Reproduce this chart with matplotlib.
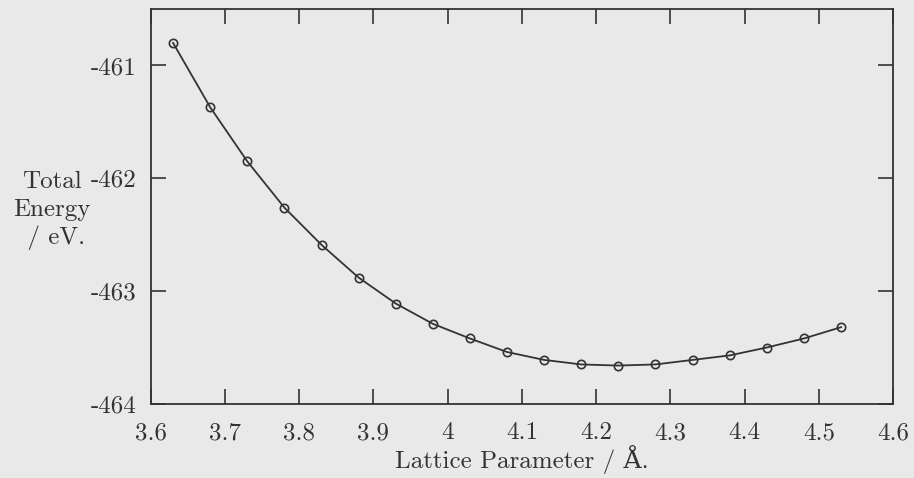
import numpy as np
import matplotlib.pyplot as plt
from matplotlib.ticker import FuncFormatter

# lattice parameter (Angstrom) and total energy (eV)
lattice = [3.63, 3.68, 3.73, 3.78, 3.83, 3.88, 3.93, 3.98, 4.03, 4.08,
           4.13, 4.18, 4.23, 4.28, 4.33, 4.38, 4.43, 4.48, 4.53]
energy = [-460.80, -461.37, -461.85, -462.26, -462.59, -462.88, -463.11,
          -463.29, -463.42, -463.54, -463.61, -463.65, -463.66, -463.65,
          -463.61, -463.57, -463.50, -463.42, -463.32]
xticks = [3.6, 3.7, 3.8, 3.9, 4.0, 4.1, 4.2, 4.3, 4.4, 4.5, 4.6]
yticks = [-464, -463, -462, -461]
ylabel_lines = ['Total', 'Energy', ' / eV.']

ink = '#333333'
bg = '#e9e9e9'
plt.rcParams['font.family'] = ['cmr10', 'DejaVu Serif']
plt.rcParams['axes.formatter.use_mathtext'] = False

W, H = 914, 478
fig = plt.figure(figsize=(W / 100, H / 100), dpi=100, facecolor=bg)
ax = fig.add_axes([0.165, 0.155, 0.812, 0.826])
ax.set_facecolor(bg)

ax.plot(lattice, energy, color=ink, lw=1.3, marker='o', ms=6,
        mfc='none', mec=ink, mew=1.2)

ax.set_xlim(3.6, 4.6)
ax.set_ylim(-464, -460.5)
ax.set_xticks(xticks)
ax.set_yticks(yticks)
ax.xaxis.set_major_formatter(FuncFormatter(lambda v, p: f'{v:g}'))
ax.yaxis.set_major_formatter(FuncFormatter(lambda v, p: f'{v:g}'))
ax.tick_params(direction='in', length=11, width=1.2, color=ink,
               labelcolor=ink, labelsize=18, top=True, right=True)
ax.tick_params(axis='x', pad=13)
ax.tick_params(axis='y', pad=10)
for s in ax.spines.values():
    s.set_color(ink)
    s.set_linewidth(1.3)

ax.set_xlabel('Lattice Parameter / Å.', fontsize=18, color=ink, labelpad=1)
# y label stacked on three lines, left of the tick labels
for i, line in enumerate(ylabel_lines):
    fig.text(52 / W, 1 - (188 + 28 * i) / H, line, fontsize=18, color=ink,
             ha='center', va='baseline')

fig.savefig('out.png', dpi=100, facecolor=bg)
